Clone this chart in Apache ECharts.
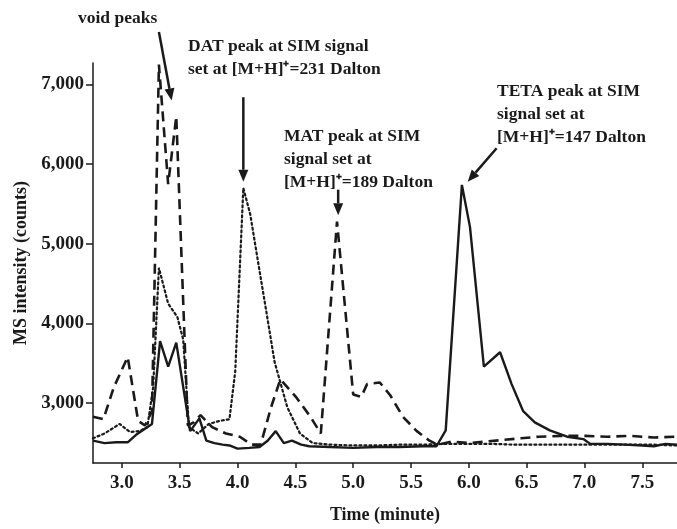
<!DOCTYPE html>
<html>
<head>
<meta charset="utf-8">
<title>MS intensity</title>
<script src="https://cdn.jsdelivr.net/npm/echarts@6/dist/echarts.min.js"></script>
<style>
  html, body { margin: 0; padding: 0; background: #fff; }
  #main { width: 677px; height: 529px; }
</style>
</head>
<body>
<div id="main"></div>
<script>
// ---- data ----
// solid line (TETA channel, 147 Da)
var tetaTime = [2.75, 2.85, 2.95, 3.05, 3.12, 3.18, 3.26, 3.33, 3.40, 3.47, 3.59, 3.67, 3.73, 3.80, 3.87, 3.93, 4.00, 4.10, 4.19, 4.26, 4.33, 4.40, 4.47, 4.55, 4.62, 4.80, 5.00, 5.20, 5.40, 5.60, 5.72, 5.80, 5.94, 6.01, 6.13, 6.27, 6.37, 6.47, 6.57, 6.70, 6.85, 6.99, 7.05, 7.20, 7.35, 7.50, 7.60, 7.70, 7.80];
var tetaValue = [2530, 2500, 2510, 2510, 2600, 2660, 2740, 3780, 3460, 3760, 2650, 2810, 2530, 2500, 2480, 2470, 2430, 2440, 2450, 2530, 2650, 2500, 2530, 2480, 2460, 2450, 2440, 2450, 2450, 2460, 2460, 2660, 5740, 5210, 3460, 3640, 3240, 2900, 2760, 2660, 2580, 2550, 2490, 2490, 2480, 2470, 2460, 2490, 2480];

// dashed line (void peaks + MAT channel, 189 Da)
var matTime = [2.75, 2.84, 2.93, 3.05, 3.14, 3.20, 3.26, 3.32, 3.40, 3.47, 3.57, 3.62, 3.68, 3.78, 3.90, 4.02, 4.12, 4.20, 4.29, 4.37, 4.51, 4.63, 4.72, 4.86, 5.00, 5.07, 5.12, 5.23, 5.32, 5.43, 5.55, 5.66, 5.73, 5.85, 6.00, 6.15, 6.30, 6.45, 6.60, 6.80, 7.00, 7.20, 7.40, 7.60, 7.80];
var matValue = [2830, 2800, 3200, 3580, 2780, 2720, 2900, 7250, 5750, 6600, 2720, 2760, 2850, 2700, 2620, 2580, 2480, 2480, 2950, 3300, 3070, 2830, 2620, 5280, 3110, 3080, 3240, 3260, 3100, 2830, 2650, 2530, 2480, 2520, 2500, 2520, 2540, 2560, 2580, 2590, 2590, 2580, 2590, 2570, 2580];

// dotted line (DAT channel, 231 Da)
var datTime = [2.75, 2.85, 2.98, 3.07, 3.15, 3.22, 3.27, 3.32, 3.40, 3.48, 3.53, 3.58, 3.66, 3.75, 3.85, 3.93, 3.98, 4.05, 4.11, 4.18, 4.25, 4.32, 4.43, 4.54, 4.65, 4.80, 5.00, 5.20, 5.40, 5.60, 5.80, 6.00, 6.20, 6.40, 6.60, 6.80, 7.00, 7.20, 7.40, 7.60, 7.80];
var datValue = [2560, 2620, 2740, 2640, 2650, 2700, 3200, 4700, 4250, 4080, 3800, 2700, 2620, 2740, 2780, 2800, 3400, 5700, 5370, 4750, 4140, 3520, 2950, 2620, 2500, 2480, 2470, 2470, 2480, 2480, 2490, 2490, 2490, 2480, 2480, 2480, 2480, 2480, 2480, 2480, 2470];

var xTicks = [3.0, 3.5, 4.0, 4.5, 5.0, 5.5, 6.0, 6.5, 7.0, 7.5];
var yTicks = [3000, 4000, 5000, 6000, 7000];

// arrows: [fromTime, fromValue, toTime, toValue]
var arrows = [
  [3.32, 7660, 3.43, 6800],
  [4.05, 6840, 4.05, 5780],
  [4.87, 5680, 4.87, 5360],
  [6.24, 6200, 5.99, 5780]
];

function pairs(t, v) {
  return t.map(function (x, i) { return [x, v[i]]; });
}

var serif = '"Liberation Serif", "Times New Roman", serif';
var ink = '#1a1a1a';

var myChart = echarts.init(document.getElementById('main'));

option = {
  animation: false,
  backgroundColor: '#fff',
  grid: { left: 93, right: 0, top: 63, bottom: 59 },
  xAxis: {
    type: 'value',
    min: 2.75,
    max: 7.8,
    name: 'Time (minute)',
    nameLocation: 'middle',
    nameGap: 43,
    nameTextStyle: { fontFamily: serif, fontWeight: 'bold', fontSize: 18, color: ink },
    axisLine: { lineStyle: { color: ink, width: 1.5 } },
    axisTick: { show: true, length: 5, customValues: xTicks, lineStyle: { color: ink, width: 1.5 } },
    axisLabel: {
      customValues: xTicks,
      margin: 11,
      fontFamily: serif, fontWeight: 'bold', fontSize: 19, color: ink,
      formatter: function (v) { return v.toFixed(1); }
    },
    splitLine: { show: false }
  },
  yAxis: {
    type: 'value',
    min: 2250,
    max: 7270,
    name: 'MS intensity (counts)',
    nameLocation: 'middle',
    nameGap: 63,
    nameTextStyle: { fontFamily: serif, fontWeight: 'bold', fontSize: 18, color: ink },
    axisLine: { show: true, lineStyle: { color: ink, width: 1.5 } },
    axisTick: { show: true, length: 7, customValues: yTicks, lineStyle: { color: ink, width: 1.5 } },
    axisLabel: {
      customValues: yTicks,
      margin: 9,
      fontFamily: serif, fontWeight: 'bold', fontSize: 19, color: ink,
      formatter: function (v) { return v.toLocaleString('en-US'); }
    },
    splitLine: { show: false }
  },
  series: [
    {
      name: 'DAT',
      type: 'line',
      symbol: 'none',
      data: pairs(datTime, datValue),
      lineStyle: { color: ink, width: 2.2, type: [2, 3], cap: 'round' }
    },
    {
      name: 'MAT',
      type: 'line',
      symbol: 'none',
      data: pairs(matTime, matValue),
      lineStyle: { color: ink, width: 2.6, type: [10, 6] }
    },
    {
      name: 'TETA',
      type: 'line',
      symbol: 'none',
      data: pairs(tetaTime, tetaValue),
      lineStyle: { color: ink, width: 2.4, type: 'solid' }
    }
  ]
};

myChart.setOption(option);

// annotations: text labels plus arrows placed from data coordinates
function arrowShapes(a) {
  var p1 = myChart.convertToPixel({ gridIndex: 0 }, [a[0], a[1]]);
  var p2 = myChart.convertToPixel({ gridIndex: 0 }, [a[2], a[3]]);
  var dx = p2[0] - p1[0], dy = p2[1] - p1[1];
  var len = Math.sqrt(dx * dx + dy * dy);
  var ux = dx / len, uy = dy / len;
  var head = 12, half = 5;
  var bx = p2[0] - ux * head, by = p2[1] - uy * head;
  return [
    {
      type: 'line',
      shape: { x1: p1[0], y1: p1[1], x2: bx, y2: by },
      style: { stroke: ink, lineWidth: 2.5 }
    },
    {
      type: 'polygon',
      shape: { points: [[p2[0], p2[1]], [bx - uy * half, by + ux * half], [bx + uy * half, by - ux * half]] },
      style: { fill: ink }
    }
  ];
}

var labelFont = 'bold 17.5px ' + serif;
var graphics = [
  { type: 'text', left: 78, top: 9, style: { text: 'void peaks', font: labelFont, fill: ink } },
  { type: 'text', left: 188, top: 35, style: { text: 'DAT peak at SIM signal\nset at [M+H]\u207A=231 Dalton', font: labelFont, fill: ink, lineHeight: 23 } },
  { type: 'text', left: 284, top: 125, style: { text: 'MAT peak at SIM\nsignal set at\n[M+H]\u207A=189 Dalton', font: labelFont, fill: ink, lineHeight: 23 } },
  { type: 'text', left: 497, top: 80, style: { text: 'TETA peak at SIM\nsignal set at\n[M+H]\u207A=147 Dalton', font: labelFont, fill: ink, lineHeight: 23 } }
];
arrows.forEach(function (a) { graphics = graphics.concat(arrowShapes(a)); });

myChart.setOption({ graphic: graphics });
window.onresize = myChart.resize;
</script>
</body>
</html>
